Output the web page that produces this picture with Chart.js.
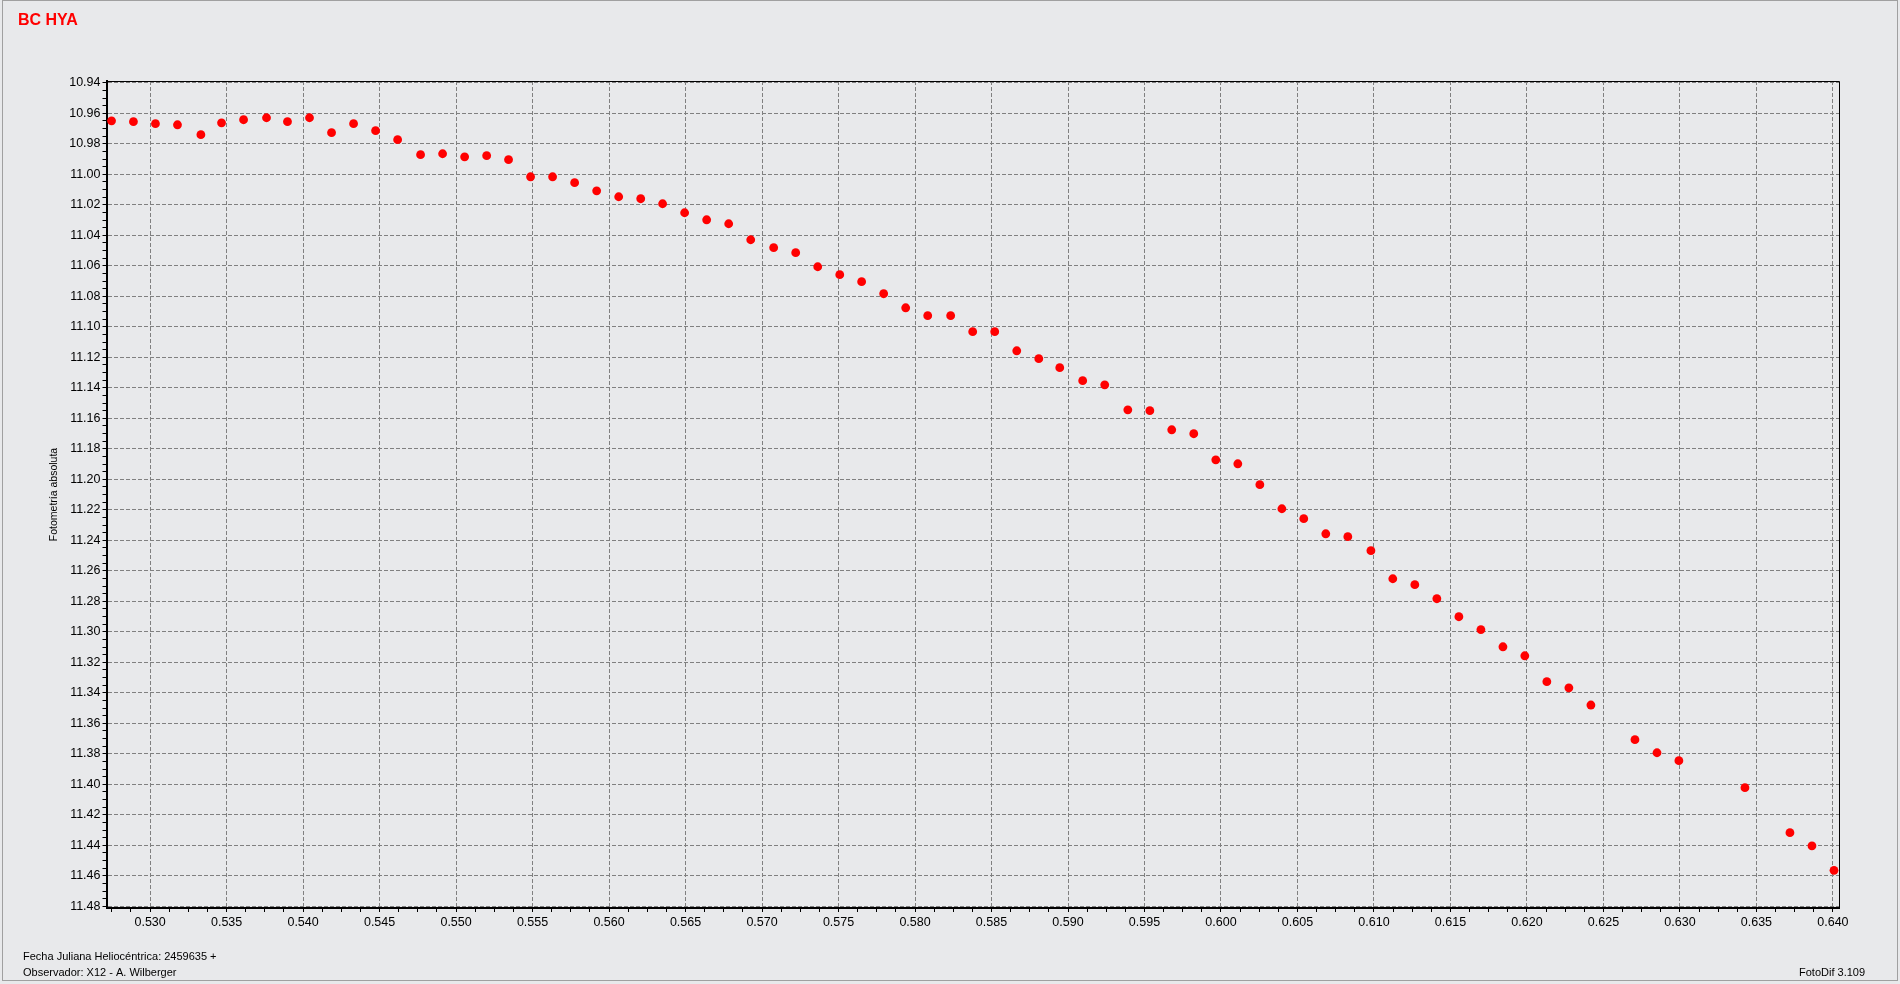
<!DOCTYPE html>
<html>
<head>
<meta charset="utf-8">
<title>BC HYA</title>
<script src="https://cdn.jsdelivr.net/npm/chart.js@4.4.1/dist/chart.umd.min.js"></script>
<style>
  html, body { margin: 0; padding: 0; background: #e8e9eb; }
  canvas { display: block; }
</style>
</head>
<body>
<canvas id="lightCurve" width="1900" height="984"></canvas>
<script>
// ---------------- Data ----------------

// Heliocentric Julian date minus 2459635
const hjd = [
  0.52748, 0.52891, 0.53035, 0.53179, 0.53332, 0.53467, 0.53611, 0.53761, 0.53898, 0.54042,
  0.54186, 0.54330, 0.54474, 0.54618, 0.54768, 0.54912, 0.55056, 0.55200, 0.55343, 0.55487,
  0.55631, 0.55775, 0.55919, 0.56063, 0.56207, 0.56350, 0.56494, 0.56638, 0.56782, 0.56926,
  0.57076, 0.57220, 0.57364, 0.57508, 0.57651, 0.57795, 0.57939, 0.58083, 0.58233, 0.58377,
  0.58521, 0.58665, 0.58809, 0.58946, 0.59096, 0.59240, 0.59391, 0.59535, 0.59678, 0.59822,
  0.59966, 0.60110, 0.60254, 0.60398, 0.60541, 0.60685, 0.60829, 0.60980, 0.61123, 0.61267,
  0.61411, 0.61555, 0.61699, 0.61843, 0.61986, 0.62130, 0.62274, 0.62418, 0.62706, 0.62850,
  0.62993, 0.63425, 0.63719, 0.63863, 0.64007
];

// absolute magnitude
const mag = [
  10.9649, 10.9655, 10.9668, 10.9675, 10.9740, 10.9662, 10.9642, 10.9629, 10.9655, 10.9629,
  10.9727, 10.9668, 10.9714, 10.9773, 10.9871, 10.9865, 10.9885, 10.9878, 10.9904, 11.0016,
  11.0016, 11.0055, 11.0108, 11.0147, 11.0160, 11.0193, 11.0252, 11.0298, 11.0324, 11.0429,
  11.0481, 11.0514, 11.0606, 11.0658, 11.0704, 11.0783, 11.0875, 11.0927, 11.0927, 11.1032,
  11.1032, 11.1157, 11.1209, 11.1268, 11.1353, 11.1380, 11.1544, 11.1550, 11.1675, 11.1701,
  11.1872, 11.1898, 11.2035, 11.2193, 11.2258, 11.2357, 11.2376, 11.2468, 11.2652, 11.2691,
  11.2783, 11.2901, 11.2986, 11.3098, 11.3157, 11.3327, 11.3367, 11.3480, 11.3707, 11.3793,
  11.3845, 11.4022, 11.4317, 11.4403, 11.4564
];

const xTicks = [
  0.530, 0.535, 0.540, 0.545, 0.550, 0.555, 0.560, 0.565, 0.570, 0.575, 0.580, 0.585,
  0.590, 0.595, 0.600, 0.605, 0.610, 0.615, 0.620, 0.625, 0.630, 0.635, 0.640
];

const yTicks = [
  10.94, 10.96, 10.98, 11.00, 11.02, 11.04, 11.06, 11.08, 11.10, 11.12, 11.14, 11.16, 11.18, 11.20,
  11.22, 11.24, 11.26, 11.28, 11.30, 11.32, 11.34, 11.36, 11.38, 11.40, 11.42, 11.44, 11.46, 11.48
];

const xMin = 0.52715, xMax = 0.64043;
const yMin = 10.9388, yMax = 11.4811;

const starName = "BC HYA";
const notes = ["Fecha Juliana Heliocéntrica: 2459635 +", "Observador: X12 - A. Wilberger"];
const version = "FotoDif 3.109";

// ---------------- Helpers ----------------

const FONT = "'Liberation Sans', Arial, sans-serif";

// majors from the list, minors split each step in 4
function withMinors(list, lo, hi) {
  const step = (list[1] - list[0]) / 4;
  const out = [];
  for (let v = list[0] - 3 * step; v <= list[list.length - 1] + 3 * step + 1e-9; v += step) {
    if (v < lo || v > hi) continue;
    const major = list.find(m => Math.abs(m - v) < step / 10);
    out.push({ value: major !== undefined ? major : v, minor: major === undefined });
  }
  return out;
}

const gridColor = ctx => (ctx.tick && ctx.tick.minor) ? "rgba(0,0,0,0)" : "#808080";

// ---------------- Frame & notes ----------------

const framePlugin = {
  id: "framePlugin",
  beforeDraw(chart) {
    const { ctx, width, height } = chart;
    ctx.save();
    ctx.fillStyle = "#e8e9eb";
    ctx.fillRect(0, 0, width, height);
    ctx.strokeStyle = "#a0a0a0";
    ctx.lineWidth = 1;
    ctx.strokeRect(2.5, 0.5, width - 5, height - 4);
    ctx.restore();
  },
  afterDraw(chart) {
    const { ctx, chartArea } = chart;
    ctx.save();

    ctx.strokeStyle = "#000";
    ctx.lineWidth = 1;
    ctx.beginPath();
    ctx.moveTo(chartArea.left, Math.round(chartArea.top) + 0.5);
    ctx.lineTo(Math.round(chartArea.right) - 0.5, Math.round(chartArea.top) + 0.5);
    ctx.lineTo(Math.round(chartArea.right) - 0.5, chartArea.bottom);
    ctx.stroke();

    ctx.textBaseline = "alphabetic";
    ctx.textAlign = "left";

    ctx.fillStyle = "#ff0000";
    ctx.font = "bold 16px " + FONT;
    ctx.fillText(starName, 18, 25);

    ctx.fillStyle = "#000";
    ctx.font = "11px " + FONT;
    ctx.fillText(notes[0], 23, 960);
    ctx.fillText(notes[1], 23, 976);
    ctx.fillText(version, 1799, 976);

    ctx.restore();
  }
};

// ---------------- Chart ----------------

const points = hjd.map((x, i) => ({ x: x, y: mag[i] }));

new Chart(document.getElementById("lightCurve"), {
  type: "scatter",
  data: {
    datasets: [{
      label: starName,
      data: points,
      pointStyle: "circle",
      pointRadius: 4.4,
      pointHoverRadius: 4.4,
      pointBackgroundColor: "#ff0000",
      pointBorderWidth: 0
    }]
  },
  options: {
    responsive: false,
    animation: false,
    devicePixelRatio: 1,
    layout: { padding: { left: 0, top: 81, right: 60.5, bottom: 46 } },
    plugins: {
      legend: { display: false },
      tooltip: { enabled: false }
    },
    scales: {
      x: {
        type: "linear",
        position: "bottom",
        min: xMin,
        max: xMax,
        bounds: "data",
        afterBuildTicks: axis => { axis.ticks = withMinors(xTicks, xMin, xMax); },
        afterFit: axis => { axis.height = 30; },
        ticks: {
          autoSkip: false,
          maxRotation: 0,
          padding: 3,
          color: "#000",
          font: { family: FONT, size: 12.5 },
          callback: (v, i, ticks) => ticks[i].minor ? "" : Number(v).toFixed(3)
        },
        grid: {
          color: gridColor,
          lineWidth: 1,
          tickColor: "#000",
          tickLength: 4,
          tickWidth: 1
        },
        border: { display: true, color: "#000", width: 2, dash: [4, 2] }
      },
      y: {
        type: "linear",
        position: "left",
        reverse: true,
        min: yMin,
        max: yMax,
        bounds: "data",
        afterBuildTicks: axis => { axis.ticks = withMinors(yTicks, yMin, yMax); },
        afterFit: axis => { axis.width = 106.5; },
        title: {
          display: true,
          text: "Fotometría absoluta",
          color: "#000",
          font: { family: FONT, size: 10.5 },
          padding: { top: 47.7, bottom: 0 }
        },
        ticks: {
          autoSkip: false,
          padding: 2,
          color: "#000",
          font: { family: FONT, size: 12.5 },
          callback: (v, i, ticks) => ticks[i].minor ? "" : Number(v).toFixed(2)
        },
        grid: {
          color: gridColor,
          lineWidth: 1,
          tickColor: "#000",
          tickLength: 4,
          tickWidth: 1
        },
        border: { display: true, color: "#000", width: 2, dash: [4, 2] }
      }
    }
  },
  plugins: [framePlugin]
});
</script>
</body>
</html>
